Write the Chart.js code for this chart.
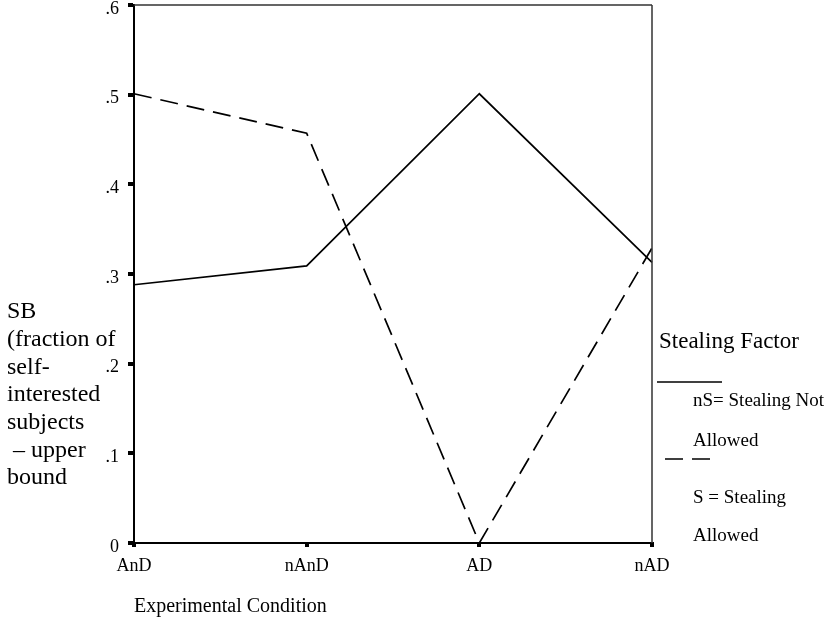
<!DOCTYPE html>
<html>
<head>
<meta charset="utf-8">
<script src="https://cdn.jsdelivr.net/npm/chart.js@4"></script>
<style>
  html, body { margin: 0; padding: 0; background: #fff; }
  #wrap { width: 835px; height: 621px; }
</style>
</head>
<body>
<div id="wrap"><canvas id="graf" width="835" height="621"></canvas></div>
<script>
// --- DATA ---
const podminky = ['AnD', 'nAnD', 'AD', 'nAD'];
const kradezNepovolena = [0.288, 0.309, 0.501, 0.313];   // nS
const kradezPovolena = [0.501, 0.457, 0.0, 0.329];       // S
const yTicky = [0, 0.1, 0.2, 0.3, 0.4, 0.5, 0.6];
const yTitulek = ['SB', '(fraction of', 'self-', 'interested', 'subjects', '\u2013 upper', 'bound'];
const legendaTitulek = 'Stealing Factor';
const legendaNS = ['nS= Stealing Not', 'Allowed'];
const legendaS = ['S = Stealing', 'Allowed'];

const PISMO = '"Liberation Serif", "DejaVu Serif", serif';

// ramecek nahore a vpravo + popisky mimo graf
const dokresleni = {
    id: 'dokresleni',
    afterDraw(chart) {
        const ctx = chart.ctx;
        const a = chart.chartArea;
        ctx.save();
        // horni a prava hrana
        ctx.strokeStyle = '#333';
        ctx.lineWidth = 1.5;
        ctx.beginPath();
        ctx.moveTo(a.left, a.top);
        ctx.lineTo(a.right, a.top);
        ctx.moveTo(a.right, a.top);
        ctx.lineTo(a.right, a.bottom);
        ctx.stroke();

        // titulek osy y (vodorovne, vice radku)
        ctx.fillStyle = '#000';
        ctx.textBaseline = 'middle';
        ctx.textAlign = 'left';
        ctx.font = '24px ' + PISMO;
        yTitulek.forEach((radek, i) => {
            const x = radek.startsWith('\u2013') ? 13 : 7;
            ctx.fillText(radek, x, a.top + 307 + i * 27.7);
        });

        // legenda
        const lx = a.right;
        ctx.font = '23px ' + PISMO;
        ctx.fillText(legendaTitulek, lx + 7, a.top + 337);

        const ds = chart.data.datasets;
        ctx.strokeStyle = '#000';
        ctx.lineWidth = ds[0].borderWidth;
        ctx.setLineDash([]);
        ctx.beginPath();
        ctx.moveTo(lx + 5, a.top + 377);
        ctx.lineTo(lx + 70, a.top + 377);
        ctx.stroke();

        ctx.font = '19px ' + PISMO;
        ctx.fillText(legendaNS[0], lx + 41, a.top + 396);
        ctx.fillText(legendaNS[1], lx + 41, a.top + 436);

        ctx.lineWidth = ds[1].borderWidth;
        ctx.setLineDash(ds[1].borderDash);
        ctx.beginPath();
        ctx.moveTo(lx + 13, a.top + 454);
        ctx.lineTo(lx + 61, a.top + 454);
        ctx.stroke();
        ctx.setLineDash([]);

        ctx.fillText(legendaS[0], lx + 41, a.top + 493);
        ctx.fillText(legendaS[1], lx + 41, a.top + 531);
        ctx.restore();
    }
};

const mujGraf = new Chart(document.getElementById('graf'), {
    type: 'line',
    data: {
        labels: podminky,
        datasets: [
            {
                label: legendaNS.join(' '),
                data: kradezNepovolena,
                borderColor: '#000',
                borderWidth: 1.7,
                pointRadius: 0,
                tension: 0,
                fill: false
            },
            {
                label: legendaS.join(' '),
                data: kradezPovolena,
                borderColor: '#000',
                borderWidth: 1.7,
                borderDash: [18, 9],
                pointRadius: 0,
                tension: 0,
                fill: false
            }
        ]
    },
    options: {
        responsive: false,
        animation: false,
        layout: { padding: { left: 0, right: 183, top: 5, bottom: 0 } },
        plugins: {
            legend: { display: false },
            tooltip: { enabled: false }
        },
        scales: {
            x: {
                type: 'category',
                offset: false,
                grid: { drawOnChartArea: false, tickLength: 4, lineWidth: 4, color: '#000' },
                border: { color: '#000', width: 2 },
                ticks: {
                    color: '#000',
                    font: { family: PISMO, size: 18 },
                    padding: 8,
                    maxRotation: 0,
                    autoSkip: false
                },
                title: {
                    display: true,
                    text: 'Experimental Condition',
                    align: 'start',
                    color: '#000',
                    font: { family: PISMO, size: 20 },
                    padding: { top: 0, bottom: 2 }
                },
                afterFit(scale) { scale.height = 78; scale.paddingLeft = 0; scale.paddingRight = 0; }
            },
            y: {
                min: 0,
                max: 0.6,
                afterBuildTicks(scale) { scale.ticks = yTicky.map(v => ({ value: v })); },
                grid: { drawOnChartArea: false, tickLength: 6, lineWidth: 4, color: '#000' },
                border: { color: '#000', width: 2 },
                ticks: {
                    color: '#000',
                    font: { family: PISMO, size: 18 },
                    padding: 9,
                    labelOffset: 4,
                    callback: function(v) {
                        return v === 0 ? '0' : '.' + Math.round(v * 10);
                    }
                },
                afterFit(scale) { scale.width = 134; scale.paddingTop = 0; scale.paddingBottom = 0; }
            }
        }
    },
    plugins: [dokresleni]
});
</script>
</body>
</html>
